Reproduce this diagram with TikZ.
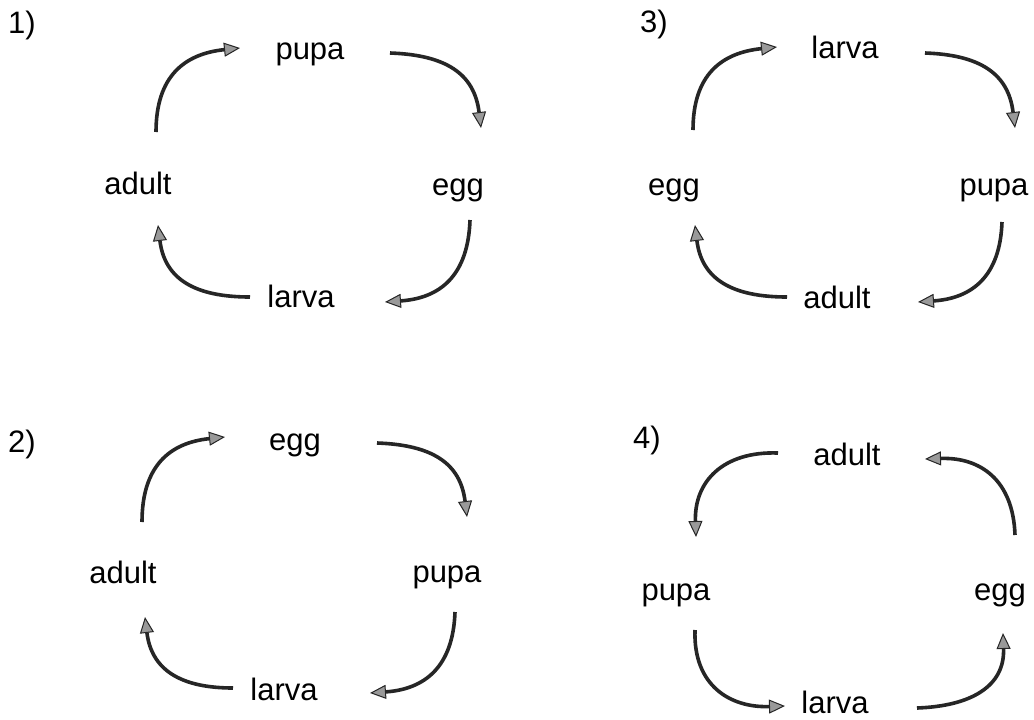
\documentclass[tikz,border=0pt]{standalone}
\usepackage{fontspec}
\setmainfont{Liberation Sans}
\usetikzlibrary{arrows.meta}
\begin{document}
\begin{tikzpicture}[x=1pt,y=-1pt,
  lbl/.style={anchor=base, inner sep=0pt, font=\fontsize{31}{36}\selectfont},
  num/.style={anchor=base west, inner sep=0pt, font=\fontsize{31}{36}\selectfont},
  cyc/.style={draw=black!85, line width=3.6pt, looseness=1.2,
    -{Triangle[length=16pt,width=14pt,line width=1pt,fill=black!40]}}]
\useasboundingbox[fill=white] (0,0) rectangle (1034,720);

% ---------- panel 1 ----------
\node[num] (n1) at (8,33) {1)};
\node[lbl] (p1pupa)  at (310,59)  {pupa};
\node[lbl] (p1adult) at (138,194) {adult};
\node[lbl] (p1egg)   at (458,195) {egg};
\node[lbl] (p1larva) at (301,307) {larva};
\coordinate (p1a0) at (156,132); \coordinate (p1a1) at (240,48);
\coordinate (p1b0) at (390,53);  \coordinate (p1b1) at (481,128);
\coordinate (p1c0) at (470,220); \coordinate (p1c1) at (385,302);
\coordinate (p1d0) at (250,297); \coordinate (p1d1) at (158,225);
\draw[cyc] (p1a0) to[out=90,in=186]  (p1a1);
\draw[cyc] (p1b0) to[out=-2,in=97]   (p1b1);
\draw[cyc] (p1c0) to[out=-92,in=4]   (p1c1);
\draw[cyc] (p1d0) to[out=180,in=-83] (p1d1);

% ---------- panel 3 ----------
\node[num] (n3) at (640,32) {3)};
\node[lbl] (p3larva) at (845,58)  {larva};
\node[lbl] (p3egg)   at (674,195) {egg};
\node[lbl] (p3pupa)  at (994,195) {pupa};
\node[lbl] (p3adult) at (837,308) {adult};
\coordinate (p3a0) at (693,130);  \coordinate (p3a1) at (777,47);
\coordinate (p3b0) at (925,53);   \coordinate (p3b1) at (1015,128);
\coordinate (p3c0) at (1002,222); \coordinate (p3c1) at (918,302);
\coordinate (p3d0) at (787,297);  \coordinate (p3d1) at (695,225);
\draw[cyc] (p3a0) to[out=90,in=186]  (p3a1);
\draw[cyc] (p3b0) to[out=-2,in=97]   (p3b1);
\draw[cyc] (p3c0) to[out=-92,in=4]   (p3c1);
\draw[cyc] (p3d0) to[out=180,in=-83] (p3d1);

% ---------- panel 2 ----------
\node[num] (n2) at (8,452) {2)};
\node[lbl] (p2egg)   at (295,450) {egg};
\node[lbl] (p2adult) at (123,583) {adult};
\node[lbl] (p2pupa)  at (447,582) {pupa};
\node[lbl] (p2larva) at (284,700) {larva};
\coordinate (p2a0) at (142,522); \coordinate (p2a1) at (225,437);
\coordinate (p2b0) at (377,443); \coordinate (p2b1) at (467,517);
\coordinate (p2c0) at (455,612); \coordinate (p2c1) at (370,693);
\coordinate (p2d0) at (233,688); \coordinate (p2d1) at (145,617);
\draw[cyc] (p2a0) to[out=90,in=186]  (p2a1);
\draw[cyc] (p2b0) to[out=-2,in=97]   (p2b1);
\draw[cyc] (p2c0) to[out=-92,in=4]   (p2c1);
\draw[cyc] (p2d0) to[out=180,in=-83] (p2d1);

% ---------- panel 4 ----------
\node[num] (n4) at (633,448) {4)};
\node[lbl] (p4adult) at (847,465)  {adult};
\node[lbl] (p4pupa)  at (676,600)  {pupa};
\node[lbl] (p4egg)   at (1000,600) {egg};
\node[lbl] (p4larva) at (835,713)  {larva};
\coordinate (p4a0) at (778,453);  \coordinate (p4a1) at (696,537);
\coordinate (p4b0) at (695,630);  \coordinate (p4b1) at (785,706);
\coordinate (p4c0) at (917,708);  \coordinate (p4c1) at (1003,633);
\coordinate (p4d0) at (1015,535); \coordinate (p4d1) at (925,459);
\draw[cyc] (p4a0) to[out=178,in=92]  (p4a1);
\draw[cyc] (p4b0) to[out=-92,in=182] (p4b1);
\draw[cyc] (p4c0) to[out=2,in=-88]   (p4c1);
\draw[cyc] (p4d0) to[out=92,in=2]    (p4d1);
\end{tikzpicture}
\end{document}
